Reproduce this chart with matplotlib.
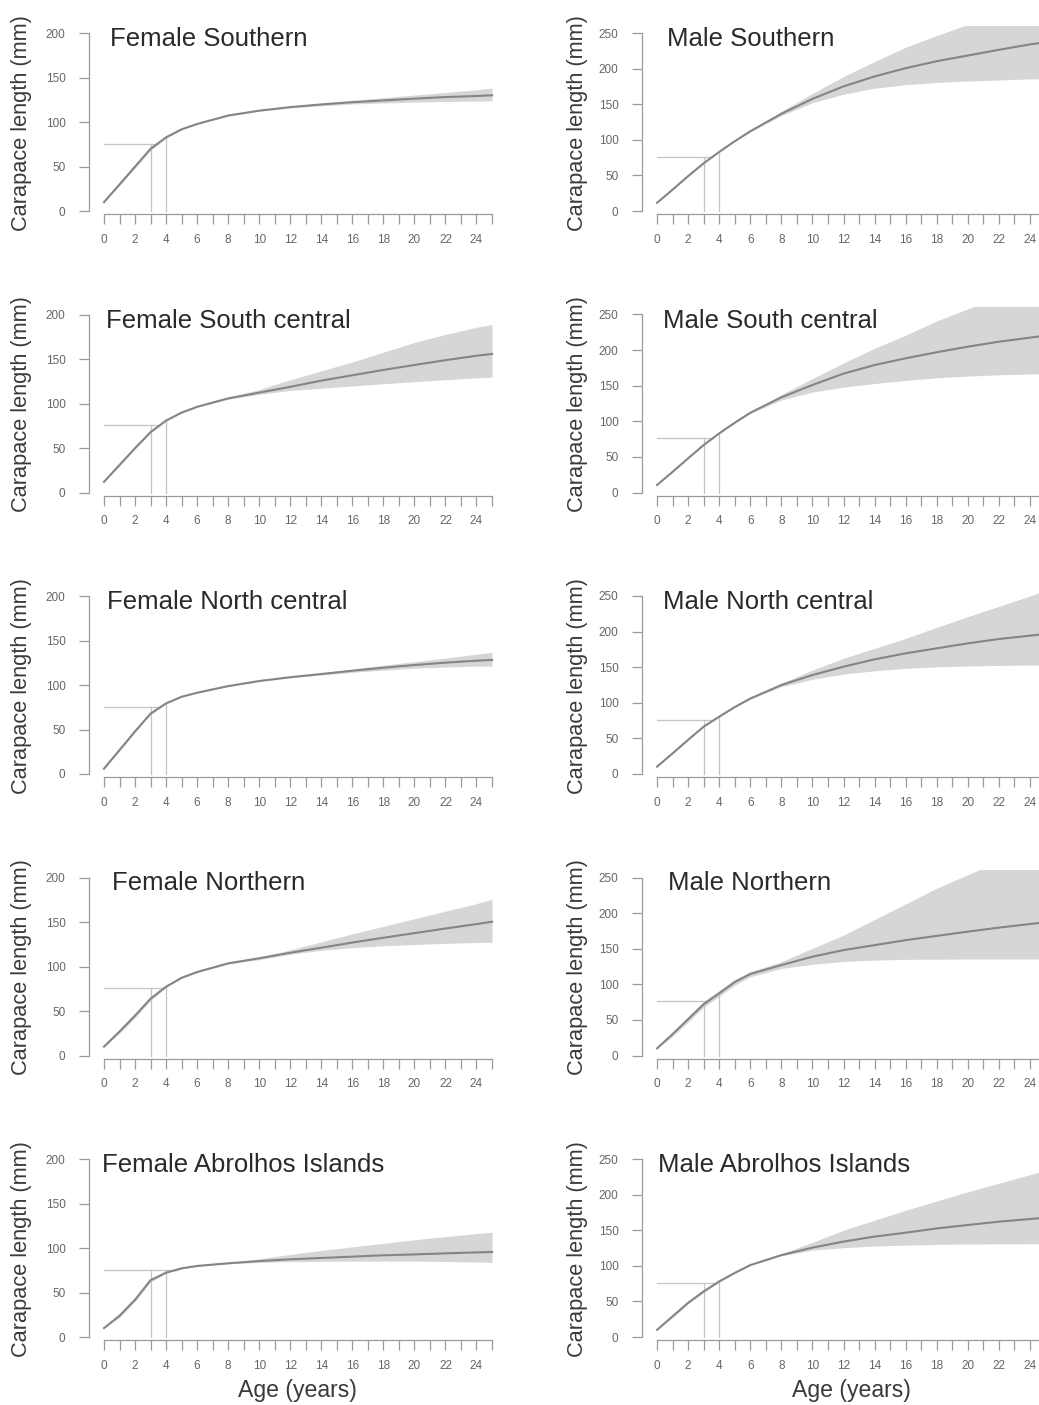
"""
Curvas de crecimiento (largo de caparazón vs edad) por sexo y región.
Línea media + banda de incertidumbre, con referencia al tamaño legal (76 mm).
"""
import numpy as np
import matplotlib.pyplot as plt

plt.rcParams["font.family"] = ["Liberation Sans", "DejaVu Sans"]

ages = [0, 1, 2, 3, 4, 5, 6, 8, 10, 12, 14, 16, 18, 20, 22, 24, 25]

# Hembras
fs_mean = [10, 30, 50, 70, 83, 92, 98, 107.5, 113, 117, 120, 122.5, 124.5, 126.5, 128.3, 129.5, 130.3]
fs_lower = [10, 28.5, 48.5, 68.5, 82, 91.5, 97.6, 107, 112.4, 116, 118.5, 120.5, 121.7, 122.6, 123.3, 123.8, 124]
fs_upper = [10, 31.5, 51.5, 71.5, 84, 92.5, 98.4, 108, 113.7, 118, 121.5, 124.7, 127.6, 130.5, 133.5, 136.5, 138.5]

fsc_mean = [12, 31, 50, 68, 81, 90, 96.5, 106, 112.5, 119, 126, 132, 138, 143.6, 149, 154, 156]
fsc_lower = [12, 30, 49, 67, 80.5, 89.5, 96, 105, 110.5, 115, 117.5, 120, 122.5, 124.8, 127, 129, 130]
fsc_upper = [12, 32, 51, 69, 81.5, 90.5, 97, 107, 116, 127, 137, 147, 158, 169, 178, 186, 189]

fnc_mean = [6, 27, 48, 68, 79.5, 87, 91.5, 99, 104.7, 109, 112.6, 116.3, 119.7, 122.7, 125.4, 127.6, 128.4]
fnc_lower = [6, 26, 47, 67, 79, 86.6, 91.2, 98.7, 104.2, 108.3, 111.5, 114.5, 117, 119.2, 120.5, 121.5, 121.5]
fnc_upper = [6, 28, 49, 69, 80, 87.4, 91.8, 99.3, 105.2, 109.7, 113.8, 118.2, 122.5, 126.5, 130.5, 135, 137]

fn_mean = [10, 27, 45, 64, 77.5, 87.5, 94, 103.8, 109.5, 115.7, 121.4, 127.2, 132.6, 137.8, 143, 148, 150.6]
fn_lower = [10, 25, 42.5, 62, 76.5, 87, 93.5, 103, 108, 114, 118.5, 121.5, 123.5, 125, 126.3, 127.2, 127.5]
fn_upper = [10, 29, 47.5, 66, 78.5, 88, 94.5, 104.6, 110.5, 119, 128, 137, 145.5, 154, 162.5, 171, 176]

fa_mean = [10, 24, 42, 64, 72.5, 77.3, 80, 83, 85.5, 87.5, 89, 90.5, 92, 93, 94.2, 95.3, 95.7]
fa_lower = [10, 22, 40, 62, 71.5, 76.8, 79.6, 82.5, 84, 84.8, 85.2, 85.4, 85.5, 85.5, 85, 84.5, 84]
fa_upper = [10, 26, 44, 66, 73.5, 77.8, 80.4, 83.5, 88, 93, 97.5, 101.5, 105.5, 109.5, 113, 116.5, 118]

# Machos
ms_mean = [11.5, 30, 49, 67, 83, 98, 112, 136.5, 157.5, 175, 189, 200.6, 210.4, 218.4, 226.4, 234, 237]
ms_lower = [11.5, 29.5, 48.5, 66.5, 82.5, 97.5, 111, 134, 152, 164, 172.5, 177.5, 180.5, 182.5, 184, 185.5, 186]
ms_upper = [11.5, 30.5, 49.5, 67.5, 83.5, 98.5, 113, 140, 165, 189, 210, 230, 246.5, 262, 278, 293, 300]

msc_mean = [10.5, 29, 48, 66.7, 83, 98, 112, 133.7, 151, 167, 179, 188.5, 197, 204.8, 211.8, 217.5, 220.3]
msc_lower = [10.5, 28.5, 47.5, 66.2, 82.5, 97.5, 111, 130, 141, 148, 153, 157.5, 161, 163.5, 165.3, 166.5, 167]
msc_upper = [10.5, 29.5, 48.5, 67.2, 83.5, 98.5, 113, 137.5, 160, 182, 202.5, 221, 241, 258, 275, 290, 297]

mnc_mean = [10.3, 29, 48, 66.5, 80.5, 94, 106, 125, 139, 150.7, 161, 169.5, 176.5, 183.5, 189.6, 194.3, 196.6]
mnc_lower = [10.3, 28.5, 47.5, 66, 80, 93.5, 105, 122.7, 133, 140.4, 145, 148.4, 150.5, 151.7, 152.5, 153, 153]
mnc_upper = [10.3, 29.5, 48.5, 67, 81, 94.5, 107, 127.3, 146, 162.5, 176.5, 190.5, 206, 221, 235.5, 250, 258]

mn_mean = [10, 30, 51, 72, 87.3, 103, 114.5, 127, 138.8, 148, 155, 162, 168, 174, 179.6, 184.7, 187]
mn_lower = [10, 27, 47, 68, 83, 99, 110.7, 122.4, 128, 132, 134, 135, 135.3, 135.5, 135.5, 135.5, 135.5]
mn_upper = [10, 33, 55, 76, 91.5, 107, 117.7, 131.8, 150.5, 169, 191, 213, 235, 254, 272, 290, 299]

ma_mean = [10, 29, 48, 64, 78, 90, 101, 115, 125.5, 134, 141, 146.5, 152.5, 157.3, 162, 165.7, 167.6]
ma_lower = [10, 27.5, 46.5, 62.5, 77, 89.3, 100.5, 114, 122, 125.5, 127.8, 129, 130, 130.6, 130.8, 131, 131]
ma_upper = [10, 30.5, 49.5, 65.5, 79, 90.7, 101.5, 117, 133, 150, 164, 178, 191, 204, 216, 228, 234]

female_titles = ["Female Southern", "Female South central", "Female North central",
                 "Female Northern", "Female Abrolhos Islands"]
male_titles = ["Male Southern", "Male South central", "Male North central",
               "Male Northern", "Male Abrolhos Islands"]
female_data = [(fs_mean, fs_lower, fs_upper), (fsc_mean, fsc_lower, fsc_upper),
               (fnc_mean, fnc_lower, fnc_upper), (fn_mean, fn_lower, fn_upper),
               (fa_mean, fa_lower, fa_upper)]
male_data = [(ms_mean, ms_lower, ms_upper), (msc_mean, msc_lower, msc_upper),
             (mnc_mean, mnc_lower, mnc_upper), (mn_mean, mn_lower, mn_upper),
             (ma_mean, ma_lower, ma_upper)]

legal_size = 76
ref_ages = [3, 4]

# layout en pixeles
W, H = 1039, 1405
fig = plt.figure(figsize=(W / 100, H / 100), dpi=100)

female_title_x = [110, 106, 107, 112, 102]
male_title_x = [667, 663, 663, 668, 658]


def panel(x0, px_per_year, zero_px, px_per_mm, ytop, ymax_tick, title, title_x,
          ylab_x, series):
    mean, lower, upper = series
    ybot = -3.1 / px_per_mm
    x1 = x0 + 27 * px_per_year
    top_px = zero_px - ytop * px_per_mm
    bot_px = zero_px - ybot * px_per_mm
    ax = fig.add_axes([x0 / W, 1 - bot_px / H, (x1 - x0) / W, (bot_px - top_px) / H])
    ax.set_xlim(-1, 26)
    ax.set_ylim(ybot, ytop)

    ax.fill_between(ages, lower, upper, color="#d6d6d6", lw=0, zorder=1)

    # edad a la que la curva media alcanza el tamaño legal
    age_legal = np.interp(legal_size, mean, ages)
    ax.plot([0, age_legal], [legal_size, legal_size], color="#c4c4c4", lw=0.9, zorder=2)
    for a in ref_ages:
        top = max(legal_size, np.interp(a, ages, mean))
        ax.plot([a, a], [0, top], color="#c4c4c4", lw=0.9, zorder=2)
    ax.plot(ages, mean, color="#858585", lw=1.5, zorder=3)

    for s in ["top", "right"]:
        ax.spines[s].set_visible(False)
    ax.spines["left"].set_bounds(0, ymax_tick)
    ax.spines["bottom"].set_bounds(0, 25)
    for s in ["left", "bottom"]:
        ax.spines[s].set_color("#9a9a9a")
        ax.spines[s].set_linewidth(0.9)

    ax.set_xticks(range(26))
    ax.set_xticklabels([str(i) if i % 2 == 0 else "" for i in range(26)])
    ax.set_yticks(range(0, ymax_tick + 1, 50))
    ax.tick_params(axis="both", length=7, width=0.9, color="#9a9a9a",
                   labelsize=8.5, labelcolor="#666666")
    ax.tick_params(axis="x", pad=7)
    ax.tick_params(axis="y", pad=9.5)

    fig.text(title_x / W, 1 - (zero_px - 165) / H, title, fontsize=18.5,
             color="#2a2a2a", va="baseline", ha="left")
    fig.text(ylab_x / W, 1 - (zero_px - 88) / H, "Carapace length (mm)",
             fontsize=15.7, color="#3a3a3a", rotation=90, ha="center", va="center")
    return ax


for r in range(5):
    zero = 211 + 281.5 * r
    panel(88.5, 15.52, zero, 0.888, 209, 200, female_titles[r], female_title_x[r],
          22, female_data[r])
    panel(641.5, 15.54, zero, 0.712, 260, 250, male_titles[r], male_title_x[r],
          577, male_data[r])

fig.text(297 / W, 1 - 1391 / H, "Age (years)", fontsize=16.6, color="#3a3a3a",
         ha="center", va="center")
fig.text(851 / W, 1 - 1391 / H, "Age (years)", fontsize=16.6, color="#3a3a3a",
         ha="center", va="center")

fig.savefig("out.png", dpi=100)
